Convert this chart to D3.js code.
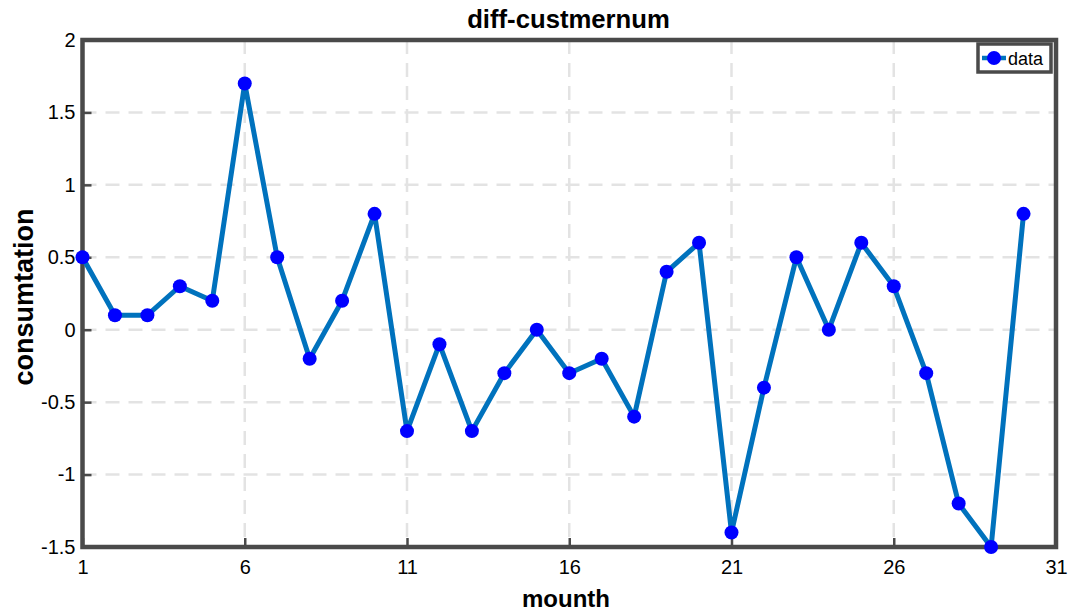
<!DOCTYPE html>
<html>
<head>
<meta charset="utf-8">
<script src="https://cdn.jsdelivr.net/npm/d3@7"></script>
<style>
  body { margin: 0; background: #fff; }
  text { font-family: "Liberation Sans", Arial, sans-serif; }
</style>
</head>
<body>
<svg id="chart" width="1077" height="613"></svg>
<script>
'use strict';

var months = d3.range(1, 31);
var values = [0.5, 0.1, 0.1, 0.3, 0.2, 1.7, 0.5, -0.2, 0.2, 0.8,
	-0.7, -0.1, -0.7, -0.3, 0, -0.3, -0.2, -0.6, 0.4, 0.6,
	-1.4, -0.4, 0.5, 0, 0.6, 0.3, -0.3, -1.2, -1.5, 0.8];
var xTicks = [1, 6, 11, 16, 21, 26, 31];
var yTicks = [-1.5, -1, -0.5, 0, 0.5, 1, 1.5, 2];

var svg = d3.select("#chart");
var m = { left: 82.5, right: 1056, top: 40, bottom: 547 };

var x = d3.scaleLinear().domain([1, 31]).range([m.left, m.right]);
var y = d3.scaleLinear().domain([-1.5, 2]).range([m.bottom, m.top]);

// grid
svg.append("g").selectAll("line").data(xTicks.slice(1, -1)).enter().append("line")
	.attr("x1", function(d) { return x(d); }).attr("x2", function(d) { return x(d); })
	.attr("y1", m.top).attr("y2", m.bottom)
	.attr("stroke", "#e3e3e3").attr("stroke-width", 2.5).attr("stroke-dasharray", "14,9");
svg.append("g").selectAll("line").data(yTicks.slice(1, -1)).enter().append("line")
	.attr("y1", function(d) { return y(d); }).attr("y2", function(d) { return y(d); })
	.attr("x1", m.left).attr("x2", m.right)
	.attr("stroke", "#e3e3e3").attr("stroke-width", 2.5).attr("stroke-dasharray", "14,9");

// axes
var axisColor = "#4a4a4a";
var gx = svg.append("g").attr("transform", "translate(0," + m.bottom + ")")
	.call(d3.axisBottom(x).tickValues(xTicks).tickSize(-9).tickPadding(13).tickFormat(d3.format("d")));
var gy = svg.append("g").attr("transform", "translate(" + m.left + ",0)")
	.call(d3.axisLeft(y).tickValues(yTicks).tickSize(-9).tickPadding(7).tickFormat(function(d) { return String(d); }));
[gx, gy].forEach(function(g) {
	g.select(".domain").remove();
	g.attr("font-size", null).attr("font-family", null);
	g.selectAll(".tick line").attr("stroke", axisColor).attr("stroke-width", 2.5);
	g.selectAll(".tick text").attr("fill", "#000").style("font-size", "20px");
});

// box
svg.append("rect")
	.attr("x", m.left).attr("y", m.top)
	.attr("width", m.right - m.left).attr("height", m.bottom - m.top)
	.attr("fill", "none").attr("stroke", axisColor).attr("stroke-width", 4.5);

// series
var line = d3.line()
	.x(function(d, i) { return x(months[i]); })
	.y(function(d) { return y(d); });

svg.append("path").datum(values)
	.attr("d", line)
	.attr("fill", "none").attr("stroke", "#0072BD").attr("stroke-width", 5)
	.attr("stroke-linejoin", "round");

svg.append("g").selectAll("circle").data(values).enter().append("circle")
	.attr("cx", function(d, i) { return x(months[i]); })
	.attr("cy", function(d) { return y(d); })
	.attr("r", 7).attr("fill", "#0000ff");

// labels
svg.append("text").attr("x", 568.5).attr("y", 28)
	.attr("text-anchor", "middle").style("font-size", "25.7px").style("font-weight", "bold")
	.text("diff-custmernum");
svg.append("text").attr("x", 566).attr("y", 607)
	.attr("text-anchor", "middle").style("font-size", "24px").style("font-weight", "bold")
	.text("mounth");
svg.append("text").attr("transform", "translate(33,297) rotate(-90)")
	.attr("text-anchor", "middle").style("font-size", "27px").style("font-weight", "bold")
	.text("consumtation");

// legend
var lg = svg.append("g").attr("transform", "translate(978,44)");
lg.append("rect").attr("width", 73).attr("height", 28)
	.attr("fill", "#fff").attr("stroke", axisColor).attr("stroke-width", 3.5);
lg.append("line").attr("x1", 4).attr("x2", 28).attr("y1", 14).attr("y2", 14)
	.attr("stroke", "#0072BD").attr("stroke-width", 4.5);
lg.append("circle").attr("cx", 16).attr("cy", 14).attr("r", 7).attr("fill", "#0000ff");
lg.append("text").attr("x", 30).attr("y", 20.5).style("font-size", "18px").text("data");
</script>
</body>
</html>
